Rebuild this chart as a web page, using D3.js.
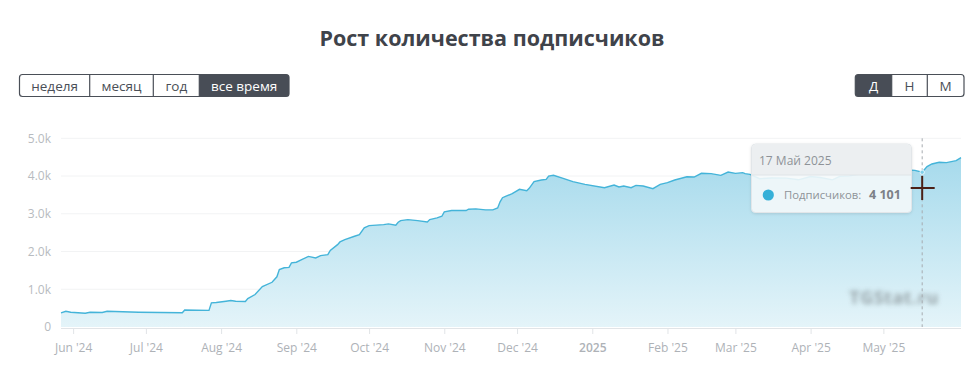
<!DOCTYPE html>
<html><head><meta charset="utf-8">
<script src="https://cdn.jsdelivr.net/npm/d3@7"></script>
<style>
html,body{margin:0;padding:0;background:#fff;}
svg{display:block;font-family:"Open Sans","Noto Sans",sans-serif;}
</style></head>
<body><svg id="c" width="971" height="374"></svg>
<script>
// ---- data ----
const title = "Рост количества подписчиков";
const periodButtons = ["неделя","месяц","год","все время"];
const scaleButtons = ["Д","Н","М"];
const dates = ["2024-05-27","2024-05-29","2024-05-31","2024-06-06","2024-06-08","2024-06-13","2024-06-15","2024-06-28","2024-07-07","2024-07-16","2024-07-17","2024-07-27","2024-07-28","2024-07-30","2024-08-03","2024-08-05","2024-08-07","2024-08-11","2024-08-12","2024-08-15","2024-08-18","2024-08-22","2024-08-24","2024-08-25","2024-08-27","2024-08-29","2024-08-30","2024-09-01","2024-09-03","2024-09-06","2024-09-09","2024-09-11","2024-09-14","2024-09-15","2024-09-18","2024-09-19","2024-09-21","2024-09-25","2024-09-27","2024-09-29","2024-10-01","2024-10-07","2024-10-09","2024-10-12","2024-10-13","2024-10-14","2024-10-17","2024-10-21","2024-10-25","2024-10-26","2024-10-29","2024-10-31","2024-11-01","2024-11-04","2024-11-10","2024-11-11","2024-11-14","2024-11-18","2024-11-21","2024-11-23","2024-11-24","2024-11-25","2024-11-26","2024-11-29","2024-12-02","2024-12-05","2024-12-06","2024-12-08","2024-12-11","2024-12-13","2024-12-14","2024-12-16","2024-12-20","2024-12-24","2024-12-29","2025-01-06","2025-01-10","2025-01-12","2025-01-14","2025-01-17","2025-01-19","2025-01-22","2025-01-26","2025-01-29","2025-02-01","2025-02-04","2025-02-09","2025-02-12","2025-02-15","2025-02-19","2025-02-23","2025-02-26","2025-03-01","2025-03-04","2025-03-05","2025-03-07","2025-03-11","2025-03-16","2025-03-22","2025-03-27","2025-04-01","2025-04-05","2025-04-10","2025-04-13","2025-04-17","2025-04-22","2025-04-27","2025-05-03","2025-05-08","2025-05-11","2025-05-14","2025-05-17","2025-05-19","2025-05-21","2025-05-24","2025-05-27","2025-05-31","2025-06-02"];
const subscribers = [376,418,392,365,392,384,418,392,385,376,450,440,640,650,683,701,683,675,754,860,1070,1185,1330,1521,1570,1580,1698,1717,1777,1870,1831,1890,1918,2030,2183,2254,2316,2404,2449,2626,2687,2714,2732,2696,2775,2820,2846,2820,2785,2846,2891,2934,3050,3085,3085,3121,3130,3104,3104,3156,3316,3426,3454,3533,3647,3610,3674,3851,3894,3912,4000,4019,3939,3851,3780,3692,3762,3709,3736,3692,3753,3736,3666,3780,3824,3894,3982,3974,4072,4063,4019,4106,4072,4090,4063,4045,3930,3950,3944,3900,3987,3960,3899,3990,4005,4060,4111,4140,4164,4160,4150,4101,4250,4320,4365,4355,4408,4488];
const xTickDates = ["2024-06-01","2024-07-01","2024-08-01","2024-09-01","2024-10-01","2024-11-01","2024-12-01","2025-01-01","2025-02-01","2025-03-01","2025-04-01","2025-05-01"];
const xTickLabels = ["Jun '24","Jul '24","Aug '24","Sep '24","Oct '24","Nov '24","Dec '24","2025","Feb '25","Mar '25","Apr '25","May '25"];
const yTickValues = [0,1000,2000,3000,4000,5000];
const yTickLabels = ["0","1.0k","2.0k","3.0k","4.0k","5.0k"];
const tooltipDate = "2025-05-17";
const tooltipTitle = "17 Май 2025";
const tooltipLabel = "Подписчиков:";
const tooltipValue = 4101;
const xDomain = ["2024-05-27","2025-06-02"];

const parse = d3.utcParse("%Y-%m-%d");
const data = dates.map((d,i)=>({date:parse(d), v:subscribers[i]}));

const svg = d3.select("#c");
const L=61,R=961,T=138.3,B=327;
const x = d3.scaleUtc().domain(xDomain.map(parse)).range([L,R]);
const y = d3.scaleLinear().domain([0,5000]).range([B,T]);

// title
svg.append("text").attr("x",492).attr("y",46).attr("text-anchor","middle")
  .attr("font-size",21.5).attr("font-weight",700).attr("fill","#3f434a").text(title);

// button groups
function btnGroup(labels, edges, activeIdx){
  const g = svg.append("g");
  const x0=edges[0], x1=edges[edges.length-1], y0=74.5, h=22;
  labels.forEach((lab,i)=>{
    if(i===activeIdx){
      const a=edges[i], b=edges[i+1];
      const rl = i===0?3:0, rr = i===labels.length-1?3:0;
      g.append("path").attr("fill","#484d56")
       .attr("d",`M${a+rl},${y0} H${b-rr} ${rr?`Q${b},${y0} ${b},${y0+rr}`:""} V${y0+h-rr} ${rr?`Q${b},${y0+h} ${b-rr},${y0+h}`:""} H${a+rl} ${rl?`Q${a},${y0+h} ${a},${y0+h-rl}`:""} V${y0+rl} ${rl?`Q${a},${y0} ${a+rl},${y0}`:""} Z`);
    }
  });
  g.append("rect").attr("x",x0).attr("y",y0).attr("width",x1-x0).attr("height",h)
   .attr("rx",3).attr("fill","none").attr("stroke","#4a4f57").attr("stroke-width",1.2);
  edges.slice(1,-1).forEach(e=>g.append("line").attr("x1",e).attr("x2",e).attr("y1",y0).attr("y2",y0+h)
   .attr("stroke","#4a4f57").attr("stroke-width",1.2));
  labels.forEach((lab,i)=>{
    g.append("text").attr("x",(edges[i]+edges[i+1])/2).attr("y",90.5).attr("text-anchor","middle")
     .attr("font-size",13.5).attr("fill",i===activeIdx?"#ffffff":"#4a4f57").text(lab);
  });
}
btnGroup(periodButtons,[19.5,89.7,153.3,199.3,289],3);
btnGroup(scaleButtons,[855.3,891.7,927.3,964],0);

// gridlines
svg.append("g").selectAll("line").data(yTickValues.filter(v=>v>0)).join("line")
  .attr("x1",L).attr("x2",R).attr("y1",d=>y(d)).attr("y2",d=>y(d))
  .attr("stroke","#f2f3f4").attr("stroke-width",1);

// defs
const defs = svg.append("defs");
const grad = defs.append("linearGradient").attr("id","ag").attr("gradientUnits","userSpaceOnUse")
  .attr("x1",0).attr("x2",0).attr("y1",y(4500)).attr("y2",B);
grad.append("stop").attr("offset",0).attr("stop-color","#a6daec");
grad.append("stop").attr("offset",1).attr("stop-color","#e4f4f9");
const blur = defs.append("filter").attr("id","bl").attr("x","-20%").attr("y","-80%").attr("width","140%").attr("height","260%");
blur.append("feGaussianBlur").attr("stdDeviation",2.6);
const sh = defs.append("filter").attr("id","sh").attr("x","-10%").attr("y","-10%").attr("width","120%").attr("height","130%");
sh.append("feDropShadow").attr("dx",0).attr("dy",1).attr("stdDeviation",1.5).attr("flood-color","#000").attr("flood-opacity",0.12);

const area = d3.area().x(d=>x(d.date)).y0(B).y1(d=>y(d.v));
const line = d3.line().x(d=>x(d.date)).y(d=>y(d.v));
svg.append("path").datum(data).attr("d",area).attr("fill","url(#ag)");
svg.append("path").datum(data).attr("d",line).attr("fill","none").attr("stroke","#44b4d9").attr("stroke-width",1.4);

// watermark (blurred)
svg.append("text").attr("x",894).attr("y",304).attr("text-anchor","middle").attr("font-size",18)
  .attr("font-weight",700).attr("letter-spacing",0.5).attr("fill","#8c979b").attr("opacity",0.85)
  .attr("filter","url(#bl)").text("TGStat.ru");

// x axis
const xAxis = d3.axisBottom(x).tickValues(xTickDates.map(parse)).tickSize(6)
  .tickFormat((d,i)=>xTickLabels[i]);
const gx = svg.append("g").attr("transform",`translate(0,${B+1})`).call(xAxis);
gx.select(".domain").attr("stroke","#e1e4e7").attr("d",`M${L},0.5H${R}`);
gx.selectAll(".tick line").attr("stroke","#e1e4e7");
gx.selectAll(".tick text").attr("fill","#aeb2b7").attr("font-size",12).attr("dy","1.25em")
  .attr("font-family","'Open Sans',sans-serif")
  .attr("font-weight",(d,i)=>xTickLabels[i]==="2025"?600:400);

// y axis
const yAxis = d3.axisLeft(y).tickValues(yTickValues).tickSize(0).tickPadding(10)
  .tickFormat((d,i)=>yTickLabels[i]);
const gy = svg.append("g").attr("transform",`translate(${L},0)`).call(yAxis);
gy.select(".domain").remove();
gy.selectAll(".tick text").attr("fill","#b7bbc0").attr("font-size",12).attr("font-family","'Open Sans',sans-serif");

// crosshair
const tx = x(parse(tooltipDate));
svg.append("line").attr("x1",tx).attr("x2",tx).attr("y1",T).attr("y2",B)
  .attr("stroke","#a6abb0").attr("stroke-dasharray","3,3").attr("stroke-width",1);

// tooltip
const tt = svg.append("g");
const bx=751.5, by=144, bw=160, bh=68.5, hh=31;
tt.append("rect").attr("x",bx).attr("y",by).attr("width",bw).attr("height",bh).attr("rx",4)
  .attr("fill","#f6fafc").attr("fill-opacity",0.88).attr("stroke","#e2e6e9").attr("filter","url(#sh)");
tt.append("path").attr("d",`M${bx+0.5},${by+hh} V${by+4} Q${bx+0.5},${by+0.5} ${bx+4},${by+0.5} H${bx+bw-4} Q${bx+bw-0.5},${by+0.5} ${bx+bw-0.5},${by+4} V${by+hh} Z`)
  .attr("fill","#eceff1");
tt.append("line").attr("x1",bx).attr("x2",bx+bw).attr("y1",by+hh).attr("y2",by+hh).attr("stroke","#e0e4e7");
tt.append("text").attr("x",bx+7.5).attr("y",by+20.5).attr("font-size",12).attr("fill","#8e9398").text(tooltipTitle);
tt.append("circle").attr("cx",bx+16.8).attr("cy",by+51).attr("r",5.6).attr("fill","#36b0d8");
tt.append("text").attr("x",bx+32.5).attr("y",by+55).attr("font-size",11.3).attr("fill","#8e9398").text(tooltipLabel);
tt.append("text").attr("x",bx+117.5).attr("y",by+55).attr("font-size",12.5).attr("font-weight",700).attr("fill","#7c8187")
  .text(d3.format(",")(tooltipValue).replace(/,/g," "));

// hover point
svg.append("circle").attr("cx",tx).attr("cy",y(tooltipValue)).attr("r",2.2).attr("fill","#7fd0ea").attr("stroke","#fff").attr("stroke-width",0.8);

// mouse cursor (crosshair)
const cy0 = 188;
svg.append("line").attr("x1",tx-11.5).attr("x2",tx+12.5).attr("y1",cy0).attr("y2",cy0).attr("stroke","#4b2016").attr("stroke-width",2);
svg.append("line").attr("x1",tx).attr("x2",tx).attr("y1",cy0-12).attr("y2",cy0+12).attr("stroke","#4b2016").attr("stroke-width",2);
</script></body></html>
